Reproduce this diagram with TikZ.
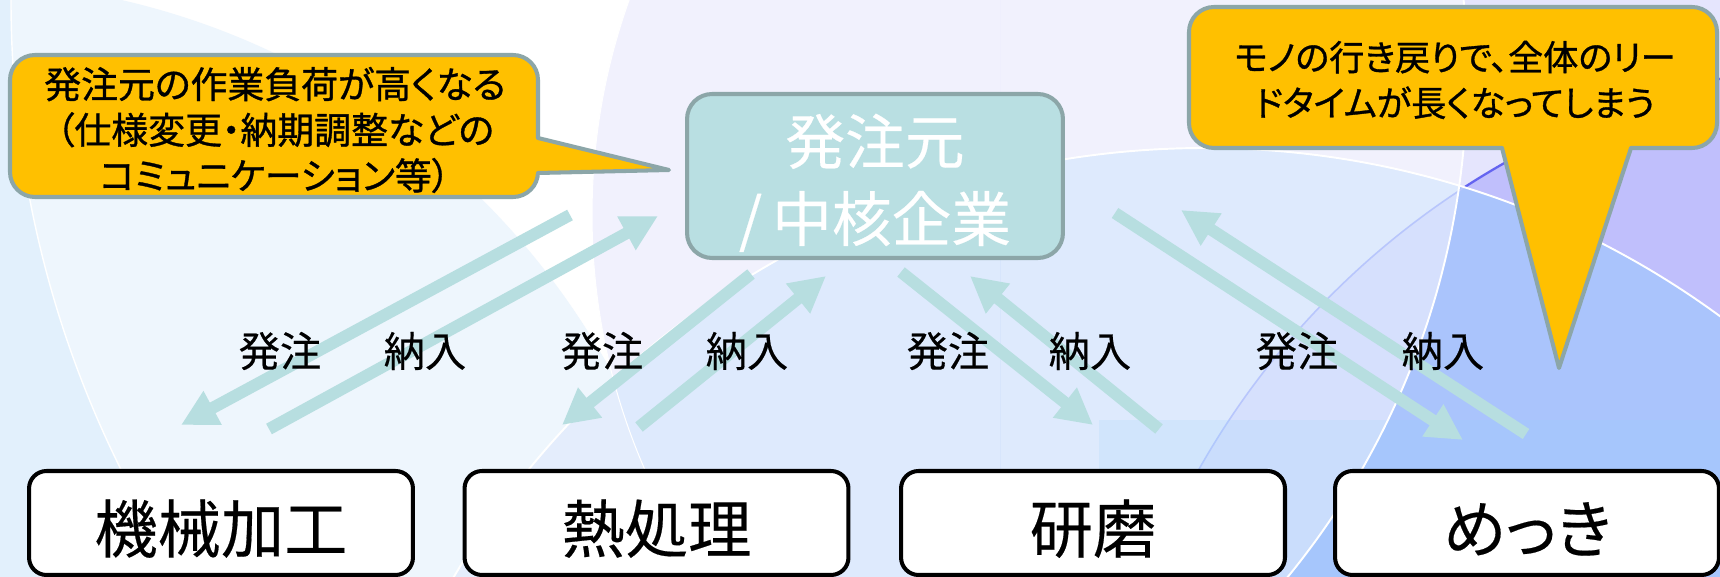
\documentclass[tikz,border=0pt]{standalone}
\usepackage{fontspec}
\setmainfont{Noto Sans CJK JP}[RawFeature=+palt, FakeBold=0.3]
\newfontfamily\notefont{Noto Sans CJK JP}[RawFeature=+palt, FakeBold=0.9]
\usetikzlibrary{arrows.meta}
\definecolor{bgleft}{HTML}{E2F0FC}
\definecolor{bgpale}{HTML}{EEF6FD}
\definecolor{bglav}{HTML}{F1F1FD}
\definecolor{bglilac}{HTML}{E5E5FD}
\definecolor{bgviolet}{HTML}{C0BFFC}
\definecolor{bgsky}{HTML}{E4EDFC}
\definecolor{bgskyc}{HTML}{DEEAFD}
\definecolor{bgmist}{HTML}{D6E0FD}
\definecolor{bgblue}{HTML}{AAC4FC}
\definecolor{rimblue}{HTML}{6464F0}
\definecolor{rimpale}{HTML}{B8C6FC}
\definecolor{tint}{HTML}{96D2FC}
\definecolor{hubfill}{HTML}{B9DFE2}
\definecolor{edgegray}{HTML}{8CA6A8}
\definecolor{flowteal}{HTML}{B7DEE0}
\definecolor{notefill}{HTML}{FFC000}
\begin{document}
\begin{tikzpicture}[x=0.02cm, y=-0.02cm,
  hub/.style={draw=edgegray, fill=hubfill, line width=2.3pt, rounded corners=0.5cm,
    minimum width=7.52cm, minimum height=3.28cm, text=white, align=center,
    font=\fontsize{34pt}{44pt}\selectfont},
  shop/.style={draw=black, fill=white, line width=2.3pt, rounded corners=0.35cm,
    minimum width=7.68cm, minimum height=2.08cm, text height=38pt, text depth=4.3pt,
    font=\fontsize{36pt}{40pt}\selectfont},
  flow/.style={draw=flowteal, line width=6.8pt, -{Triangle[length=0.72cm,width=0.72cm]}},
  lbl/.style={font=\fontsize{23.5pt}{27pt}\selectfont},
  note/.style={fill=notefill, draw=edgegray, line width=2.3pt},
  noteedge/.style={draw=edgegray, line width=2.3pt, line cap=round, line join=round},
  notetext/.style={align=center, font=\notefont\fontsize{21pt}{26pt}\selectfont}]
\useasboundingbox (0,0) rectangle (1720,577);
\begin{scope}
  \clip (0,0) rectangle (1720,577);
  \fill[bgleft] (0,0) rectangle (1720,577);
  \fill[white] (1066,0) circle[radius=1055];
  \begin{scope}
    \clip (1066,0) circle[radius=1055];
    \fill[bgpale] (-47,731) circle[radius=750];
  \end{scope}
  \draw[white, line width=0.8pt] (1066,0) circle[radius=1055];
  \fill[bglav] (1230,215) circle[radius=638];
  \begin{scope}
    \clip (1000,0) rectangle (1720,577);
    \fill[bglilac, even odd rule] (1000,0) rectangle (1720,577) (672,74) circle[radius=795];
    \clip (1903,866) circle[radius=808];
    \fill[bgviolet, even odd rule] (1000,0) rectangle (1720,577) (672,74) circle[radius=795];
  \end{scope}
  \begin{scope}
    \clip (1459,0) rectangle (1720,190);
    \draw[rimblue, line width=1.3pt] (1903,866) circle[radius=808];
  \end{scope}
  \fill[bgsky] (1205,1020) circle[radius=872];
  \begin{scope}
    \clip (1205,1020) circle[radius=872];
    \fill[bgskyc] (1230,215) circle[radius=638];
    \begin{scope}
      \clip (1903,866) circle[radius=808];
      \fill[bgmist] (1000,0) rectangle (1720,577);
    \end{scope}
    \begin{scope}
      \clip (1000,0) rectangle (1720,577);
      \fill[bgblue, even odd rule] (1000,0) rectangle (1720,577) (672,74) circle[radius=795];
    \end{scope}
    \draw[rimpale, line width=0.9pt] (1903,866) circle[radius=808];
  \end{scope}
  \fill[tint, opacity=0.18] (1099,420) rectangle (1720,577);
  \draw[white, line width=0.6pt] (1230,215) circle[radius=638];
  \draw[white, line width=1.1pt] (1205,1020) circle[radius=872];
  \begin{scope}
    \clip (1000,0) rectangle (1720,577);
    \draw[white, line width=1.1pt] (672,74) circle[radius=795];
  \end{scope}
\end{scope}

\coordinate (ord1s) at (570,215); \coordinate (ord1e) at (181,425);
\coordinate (del1s) at (269,429); \coordinate (del1e) at (658,216);
\coordinate (ord2s) at (751,274); \coordinate (ord2e) at (562,425);
\coordinate (del2s) at (639,427); \coordinate (del2e) at (826,276);
\coordinate (ord3s) at (901,272); \coordinate (ord3e) at (1093,425);
\coordinate (del3s) at (1159,429); \coordinate (del3e) at (970,276);
\coordinate (ord4s) at (1115,213); \coordinate (ord4e) at (1463,440);
\coordinate (del4s) at (1526,434); \coordinate (del4e) at (1181,210);
\draw[flow] (ord1s) -- (ord1e);
\draw[flow] (del1s) -- (del1e);
\draw[flow] (ord2s) -- (ord2e);
\draw[flow] (del2s) -- (del2e);
\draw[flow] (ord3s) -- (ord3e);
\draw[flow] (del3s) -- (del3e);
\draw[flow] (ord4s) -- (ord4e);
\draw[flow] (del4s) -- (del4e);

\node[hub] (hub) at (875,176) {\rule{0pt}{1.07em}発注元\\/\,中核企業};
\node[shop] (machining) at (221,523) {機械加工};
\node[shop] (heat) at (656.5,523) {熱処理};
\node[shop] (grinding) at (1093,523) {研磨};
\node[shop] (plating) at (1527,523) {めっき};

\node[lbl] (ord1) at (280,351) {発注};
\node[lbl] (del1) at (425,351) {納入};
\node[lbl] (ord2) at (602,351) {発注};
\node[lbl] (del2) at (747,351) {納入};
\node[lbl] (ord3) at (948,351) {発注};
\node[lbl] (del3) at (1090,351) {納入};
\node[lbl] (ord4) at (1297,351) {発注};
\node[lbl] (del4) at (1443,351) {納入};

\filldraw[note, rounded corners=0.5cm] (10,55) rectangle (538,197);
\fill[notefill] (532,137) -- (669,170) -- (532,174) -- cycle;
\draw[noteedge] (538,138) -- (669,170) -- (538,173);
\node[notetext] (loadnote) at (275,130) {発注元の作業負荷が高くなる\\（仕様変更・納期調整などの\\コミュニケーション等）};

\filldraw[note, rounded corners=0.5cm] (1189,7) rectangle (1717,148);
\fill[notefill] (1501,142) -- (1559,368) -- (1632,142) -- cycle;
\draw[noteedge] (1502,148) -- (1559,368) -- (1631,148);
\node[notetext, font=\notefont\fontsize{20pt}{26pt}\selectfont] (leadnote) at (1455,80) {モノの行き戻りで、全体のリー\\ドタイムが長くなってしまう};
\end{tikzpicture}
\end{document}
